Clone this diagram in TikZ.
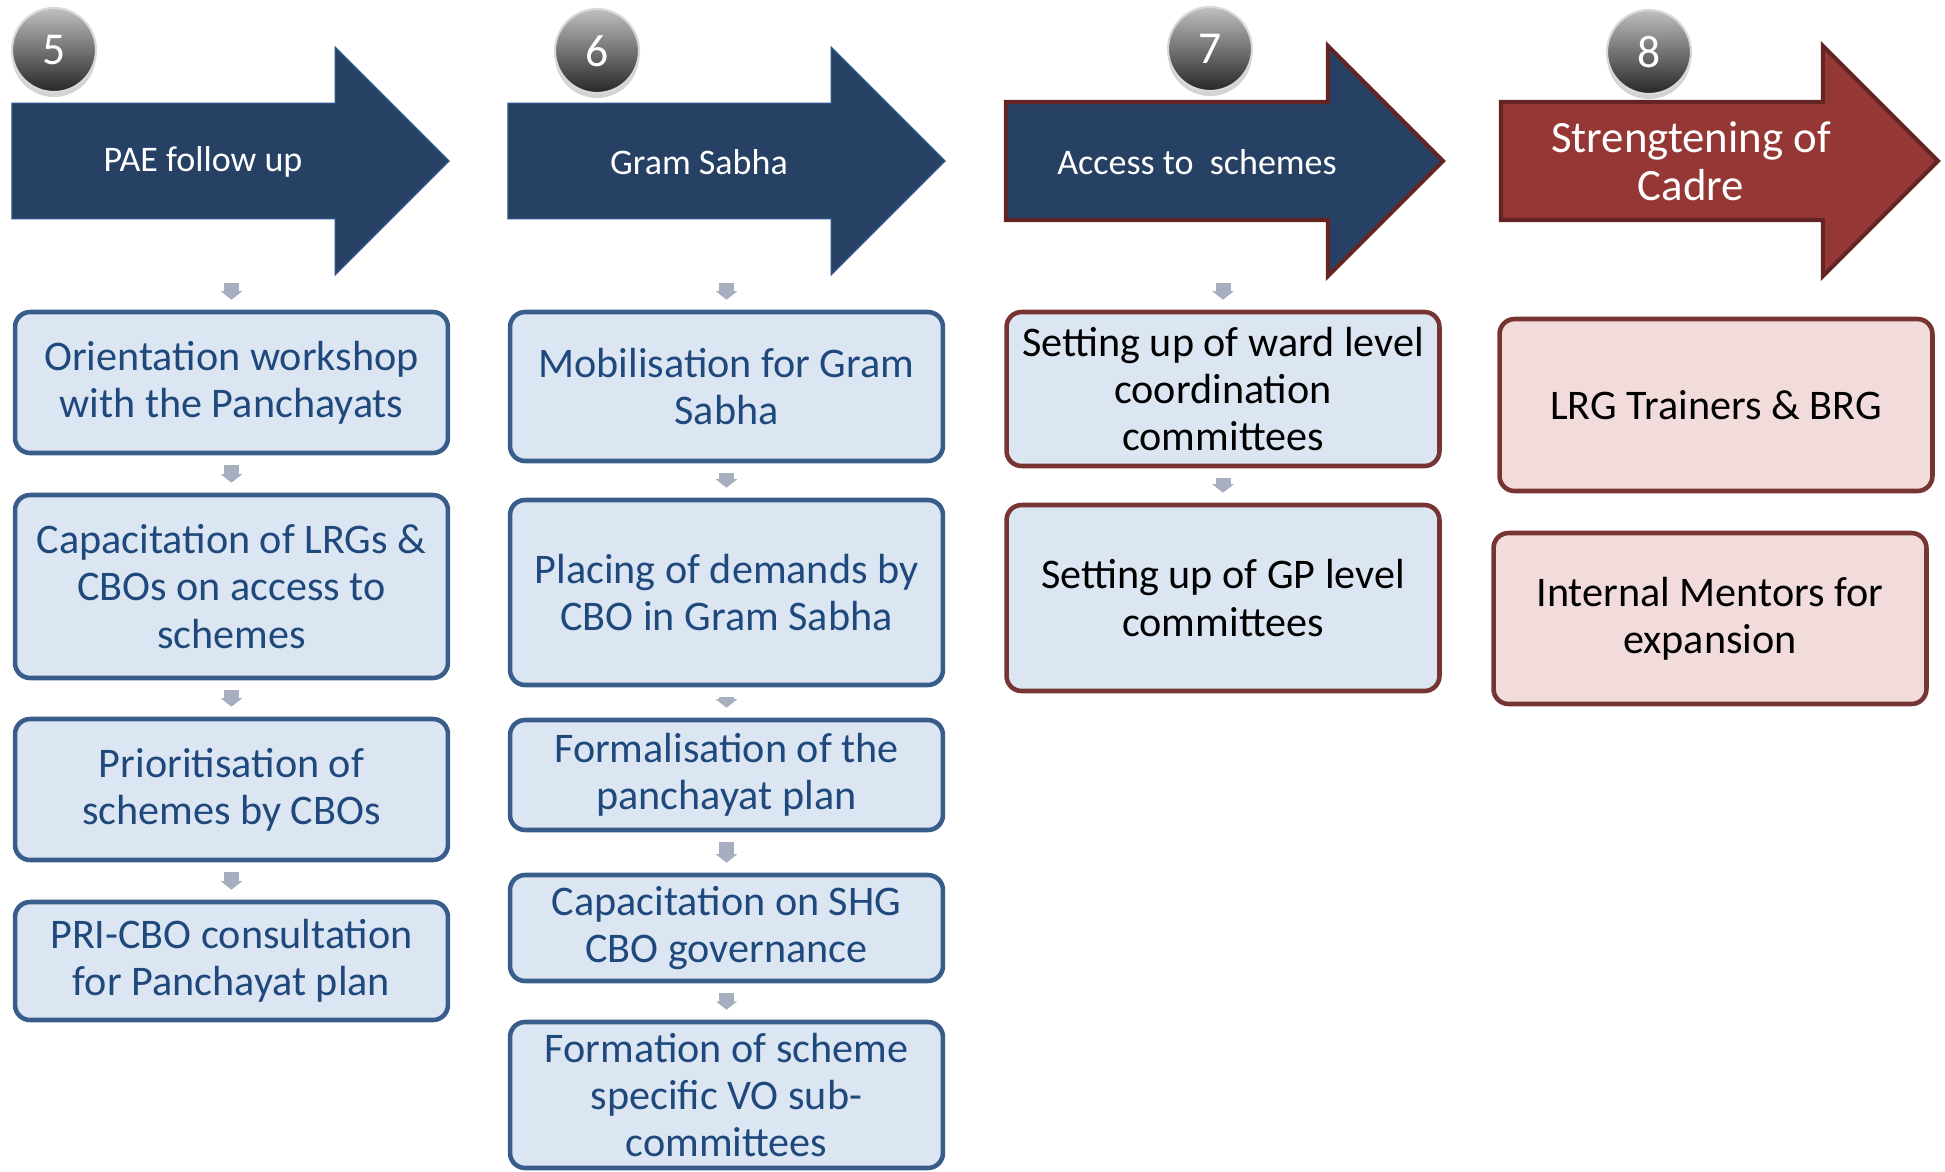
\documentclass[tikz,border=0pt]{standalone}
\usepackage{fontspec}
\setmainfont{Carlito}
\usepackage{tikz}
\usetikzlibrary{arrows.meta,shapes.arrows,shadows}

\definecolor{hdrblue}{HTML}{264163}
\definecolor{hdrline}{HTML}{2B5286}
\definecolor{hdrred}{HTML}{953735}
\definecolor{darkred}{HTML}{632523}
\definecolor{boxblue}{HTML}{DCE6F2}
\definecolor{boxline}{HTML}{385D8A}
\definecolor{boxtext}{HTML}{1F497D}
\definecolor{boxpink}{HTML}{F2DCDB}
\definecolor{boxmaroon}{HTML}{763432}
\definecolor{linkgrey}{HTML}{A7AEC0}

\begin{document}
\begin{tikzpicture}[x=0.02cm, y=-0.02cm,
		bigarrow/.style={single arrow, anchor=tail, minimum height=8.74cm, inner xsep=0pt, inner ysep=1.14cm, single arrow head extend=1.12cm, outer sep=0pt, fill=hdrblue, draw=hdrline, line width=0.8pt},
		hdrtext/.style={text=white, align=center, font=\fontsize{20.5}{24}\selectfont},
		numball/.style={circle, minimum size=1.68cm, inner sep=0pt, top color=black!25, bottom color=black!85, draw=white!85!black, line width=1.2pt, text=white, font=\fontsize{26}{28}\selectfont, drop shadow={shadow xshift=0pt, shadow yshift=-0.1cm, opacity=0.35}},
		bluebox/.style={rectangle, rounded corners=0.3cm, draw=boxline, fill=boxblue, line width=2.6pt, minimum width=8.66cm, align=center, text=boxtext, font=\fontsize{24}{26.8}\selectfont},
		redbox/.style={bluebox, draw=boxmaroon, text=black},
		pinkbox/.style={redbox, fill=boxpink},
		link/.style={draw=linkgrey, line width=0.3cm, -{Triangle[width=0.42cm, length=0.17cm]}, shorten <=0.2cm, shorten >=0.2cm}]
		\useasboundingbox (0,0) rectangle (1945,1171);
		% header arrows
		\node[bigarrow] (a5) at (12,161) {};
		\node[bigarrow] (a6) at (508,161) {};
		\node[bigarrow, draw=darkred, line width=2.3pt] (a7) at (1006,161) {};
		\node[bigarrow, fill=hdrred, draw=darkred, line width=2.3pt] (a8) at (1501,161) {};
		\node[hdrtext] (t5) at (203,162) {PAE follow up};
		\node[hdrtext] (t6) at (699,162) {Gram Sabha};
		\node[hdrtext] (t7) at (1197,162) {Access to\ \ schemes};
		\node[hdrtext, font=\fontsize{25.5}{27.3}\selectfont] (t8) at (1691,161) {Strengtening of\\Cadre};
		% numbered balls
		\node[numball] (n5) at (54,50) {5};
		\node[numball] (n6) at (597,51) {6};
		\node[numball] (n7) at (1210,49) {7};
		\node[numball] (n8) at (1649,52) {8};
		% column 5
		\node[bluebox, minimum height=2.82cm] (b5a) at (231.5,382.5) {Orientation workshop\\with the Panchayats};
		\node[bluebox, minimum height=3.66cm] (b5b) at (231.5,586.5) {Capacitation of LRGs \&\\CBOs on access to\\schemes};
		\node[bluebox, minimum height=2.82cm] (b5c) at (231.5,789.5) {Prioritisation of\\schemes by CBOs};
		\node[bluebox, minimum height=2.36cm] (b5d) at (231.5,961) {PRI-CBO consultation\\for Panchayat plan};
		% column 6
		\node[bluebox, minimum height=2.98cm] (b6a) at (726.5,386.5) {Mobilisation for Gram\\Sabha};
		\node[bluebox, minimum height=3.70cm] (b6b) at (726.5,592.5) {Placing of demands by\\CBO in Gram Sabha};
		\node[bluebox, minimum height=2.20cm] (b6c) at (726.5,775) {Formalisation of the\\panchayat plan};
		\node[bluebox, minimum height=2.12cm] (b6d) at (726.5,928) {Capacitation on SHG\\CBO governance};
		\node[bluebox, minimum height=2.92cm] (b6e) at (726.5,1095) {Formation of scheme\\specific VO sub-\\committees};
		% column 7
		\node[redbox, minimum height=3.08cm] (b7a) at (1223,389) {Setting up of ward level\\coordination\\committees};
		\node[redbox, minimum height=3.72cm] (b7b) at (1223,598) {Setting up of GP level\\committees};
		% column 8
		\node[pinkbox, minimum height=3.44cm] (b8a) at (1716,405) {LRG Trainers \& BRG};
		\node[pinkbox, minimum height=3.42cm] (b8b) at (1710,618.5) {Internal Mentors for\\expansion};
		% links
		\draw[link, shorten <=2.44cm] (a5.tail -| b5a.north) -- (b5a);
		\draw[link] (b5a) -- (b5b);
		\draw[link] (b5b) -- (b5c);
		\draw[link] (b5c) -- (b5d);
		\draw[link, shorten <=2.44cm] (a6.tail -| b6a.north) -- (b6a);
		\draw[link] (b6a) -- (b6b);
		\draw[link] (b6b) -- (b6c);
		\draw[link] (b6c) -- (b6d);
		\draw[link] (b6d) -- (b6e);
		\draw[link, shorten <=2.44cm] (a7.tail -| b7a.north) -- (b7a);
		\draw[link] (b7a) -- (b7b);
\end{tikzpicture}
\end{document}
